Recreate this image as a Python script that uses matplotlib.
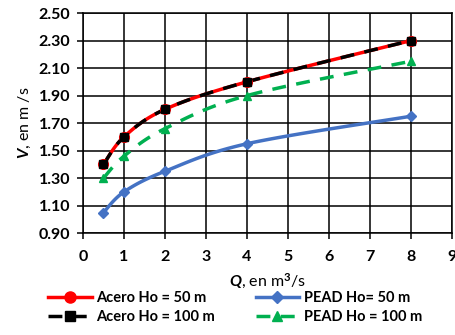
import numpy as np
import matplotlib
matplotlib.use("Agg")
import matplotlib.pyplot as plt

plt.rcParams["font.family"] = ["Lato", "DejaVu Sans"]
plt.rcParams["font.weight"] = "bold"
plt.rcParams["mathtext.fontset"] = "custom"
plt.rcParams["mathtext.it"] = "Lato:italic:bold"
plt.rcParams["mathtext.rm"] = "Lato:bold"

q = [0.5, 1, 2, 4, 8]
v_acero_50 = [1.40, 1.60, 1.80, 2.00, 2.30]
v_acero_100 = [1.40, 1.60, 1.80, 2.00, 2.30]
v_pead_50 = [1.05, 1.20, 1.35, 1.55, 1.75]
v_pead_100 = [1.30, 1.46, 1.66, 1.90, 2.15]


def smooth(x, y, n=30):
    # curva suavizada tipo Excel (Catmull-Rom)
    x = np.asarray(x, float)
    y = np.asarray(y, float)
    px = np.concatenate([[x[0]], x, [x[-1]]])
    py = np.concatenate([[y[0]], y, [y[-1]]])
    xs, ys = [], []
    for i in range(1, len(px) - 2):
        p0, p1, p2, p3 = [np.array([px[j], py[j]]) for j in range(i - 1, i + 3)]
        c1 = p1 + (p2 - p0) / 6
        c2 = p2 - (p3 - p1) / 6
        t = np.linspace(0, 1, n)[:, None]
        b = (1 - t) ** 3 * p1 + 3 * (1 - t) ** 2 * t * c1 + 3 * (1 - t) * t ** 2 * c2 + t ** 3 * p2
        xs.extend(b[:, 0])
        ys.extend(b[:, 1])
    return xs, ys


fig = plt.figure(figsize=(4.56, 3.35), dpi=100)
ax = fig.add_axes([0.182, 0.304, 0.809, 0.657])

series = [
    (v_acero_50, "#FF0000", "-", "o", 7, "Acero Ho = 50 m"),
    (v_acero_100, "#000000", (0, (4, 3)), "s", 6, "Acero Ho = 100 m"),
    (v_pead_50, "#4472C4", "-", "D", 5, "PEAD Ho= 50 m"),
    (v_pead_100, "#00B050", (0, (4, 3)), "^", 6, "PEAD Ho = 100 m"),
]
handles = []
for vals, col, ls, mk, ms, lab in series:
    sx, sy = smooth(q, vals)
    ax.plot(sx, sy, color=col, lw=2.5, ls=ls, zorder=3)
    ax.plot(q, vals, ls="none", marker=mk, ms=ms, color=col, zorder=4)
    h, = ax.plot([], [], color=col, lw=2.5, ls=ls, marker=mk, ms=ms + 1, label=lab)
    handles.append(h)

ax.set_xlim(0, 9)
ax.set_ylim(0.90, 2.50)
ax.set_xticks(range(0, 10))
ax.set_yticks(np.arange(0.90, 2.51, 0.20))
ax.yaxis.set_major_formatter(matplotlib.ticker.FormatStrFormatter("%.2f"))
ax.grid(True, color="black", lw=1.1)
for s in ax.spines.values():
    s.set_color("black")
    s.set_linewidth(1.1)
ax.tick_params(labelsize=11.5, length=4, width=1.1, color="black")
ax.tick_params(axis="x", pad=8)
ax.tick_params(axis="y", pad=5)
ax.set_ylabel(r"$V$, en m /s", fontsize=11.5, labelpad=4)
ax.set_xlabel(r"$Q$, en m$^3$/s", fontsize=11.5, labelpad=6)

fig.legend(handles=handles, ncol=2, loc="center", bbox_to_anchor=(0.515, 0.082),
           frameon=False, fontsize=10.5, handlelength=3.0, columnspacing=2.8,
           handletextpad=0.3, labelspacing=0.4)

fig.savefig("out.png", dpi=100)
